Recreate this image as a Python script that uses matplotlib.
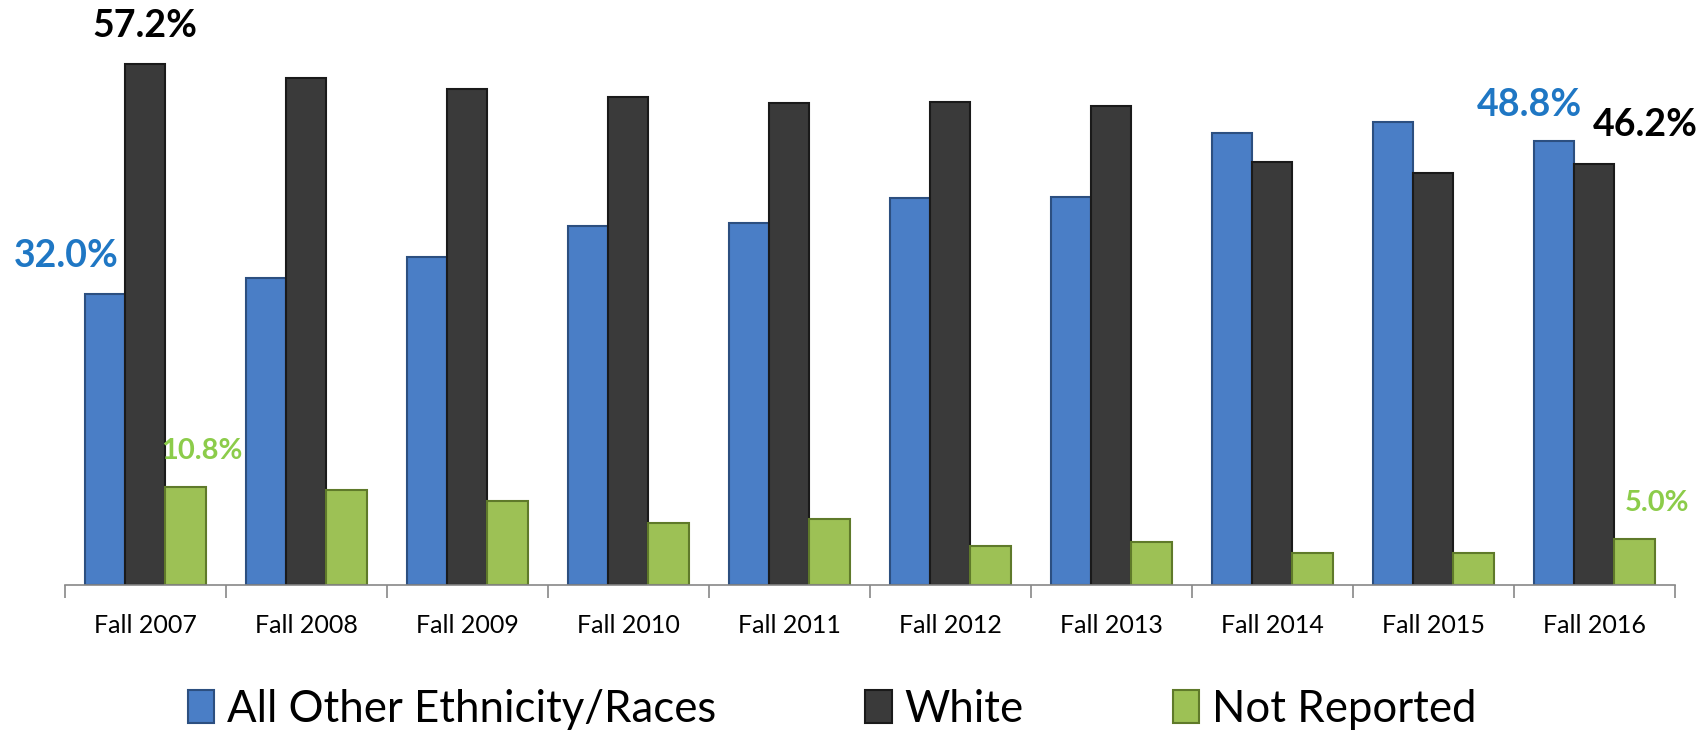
import matplotlib
matplotlib.use("Agg")
import matplotlib.pyplot as plt
import numpy as np

plt.rcParams['font.family'] = ['Lato', 'DejaVu Sans']

years = ['Fall 2007', 'Fall 2008', 'Fall 2009', 'Fall 2010', 'Fall 2011',
         'Fall 2012', 'Fall 2013', 'Fall 2014', 'Fall 2015', 'Fall 2016']
other = [32.0, 33.7, 36.0, 39.4, 39.7, 42.5, 42.6, 49.6, 50.8, 48.8]
white = [57.2, 55.7, 54.5, 53.6, 52.9, 53.0, 52.6, 46.5, 45.3, 46.2]
not_reported = [10.8, 10.4, 9.2, 6.8, 7.2, 4.3, 4.7, 3.5, 3.5, 5.0]

c_blue = '#4a7ec6'
c_dark = '#3a3a3a'
c_green = '#9dc155'

fig = plt.figure(figsize=(17.02, 7.31), dpi=100)
ax = fig.add_axes([0.038, 0.2, 0.946, 0.747])

x = np.arange(len(years))
w = 0.25
ax.bar(x - w, other, w, color=c_blue, edgecolor='#2c4f80', linewidth=1.5, label='All Other Ethnicity/Races')
ax.bar(x, white, w, color=c_dark, edgecolor='#1a1a1a', linewidth=1.5, label='White')
ax.bar(x + w, not_reported, w, color=c_green, edgecolor='#5f7a2a', linewidth=1.5, label='Not Reported')

ax.set_xlim(-0.5, len(years) - 0.5)
ax.set_ylim(0, 60)
ax.set_yticks([])
for s in ['top', 'right', 'left']:
    ax.spines[s].set_visible(False)
ax.spines['bottom'].set_color('#888888')
ax.spines['bottom'].set_linewidth(1.2)

ax.set_xticks(x)
ax.set_xticklabels(years, fontsize=18)
ax.tick_params(axis='x', which='major', length=0, pad=21)
ax.set_xticks(np.arange(-0.5, len(years)), minor=True)
ax.tick_params(axis='x', which='minor', length=9, color='#888888', width=1.2)

# value labels for first and last year
lab_kw = dict(fontsize=27, fontweight='bold', va='bottom', ha='center')
sm_kw = dict(fontsize=21, fontweight='bold', va='bottom', ha='center')
ax.text(x[0] - w - 0.24, other[0] + 2.3, f'{other[0]:.1f}%', color='#1f77c4', **lab_kw)
ax.text(x[0], white[0] + 2.3, f'{white[0]:.1f}%', color='black', **lab_kw)
ax.text(x[0] + w + 0.1, not_reported[0] + 2.5, f'{not_reported[0]:.1f}%', color='#8ccc4a', **sm_kw)
ax.text(x[-1] - w - 0.15, other[-1] + 2.0, f'{other[-1]:.1f}%', color='#1f77c4', **lab_kw)
ax.text(x[-1] + 0.32, white[-1] + 2.4, f'{white[-1]:.1f}%', color='black', **lab_kw)
ax.text(x[-1] + w + 0.14, not_reported[-1] + 2.6, f'{not_reported[-1]:.1f}%', color='#8ccc4a', **sm_kw)

fig.legend(loc='center', bbox_to_anchor=(0.489, 0.03), ncol=3, frameon=False,
           fontsize=31.5, handlelength=0.6, handleheight=0.8, handletextpad=0.3, columnspacing=3.4)

fig.savefig('out.png', dpi=100)
